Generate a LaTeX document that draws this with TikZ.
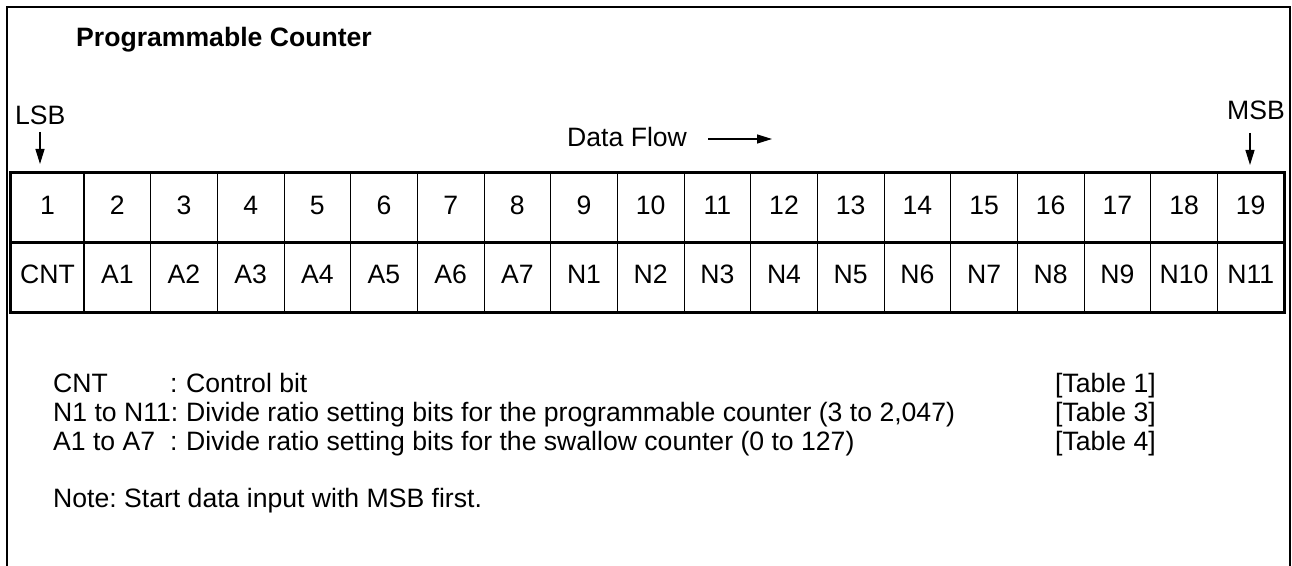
\documentclass[tikz,border=0pt]{standalone}
\usepackage{fontspec}
\setmainfont{Liberation Sans}
\usetikzlibrary{arrows.meta}
\frenchspacing
\begin{document}
\begin{tikzpicture}[x=1bp,y=-1bp,
  every node/.style={font=\fontsize{26.6bp}{32bp}\selectfont, inner sep=0pt},
  cell/.style={draw, line width=1bp, minimum height=69.5bp, text height=19bp, text depth=6bp, anchor=center},
  lbl/.style={anchor=base west},
  arr/.style={line width=1.3bp, -{Triangle[length=15bp,width=9bp]}}]
\useasboundingbox (0,0) rectangle (1292,566);
% outer frame (open at bottom)
\draw[line width=2bp] (7,566) -- (7,7) -- (1290,7) -- (1290,566);
% title
\node[lbl, font=\fontsize{26.6bp}{32bp}\selectfont\bfseries] (title) at (76,47) {Programmable Counter};
% LSB / MSB
\node[lbl] (lsb) at (15,125) {LSB};
\node[anchor=base east] (msb) at (1285,120) {MSB};
\coordinate (lsbA) at (40,132);
\coordinate (lsbB) at (40,164);
\coordinate (msbA) at (1250,133);
\coordinate (msbB) at (1250,165);
\draw[arr] (lsbA) -- (lsbB);
\draw[arr] (msbA) -- (msbB);
% data flow
\node[lbl] (flow) at (567,147) {Data Flow};
\coordinate (fA) at (708,139);
\coordinate (fB) at (772,139);
\draw[arr] (fA) -- (fB);
% table cells
\node[cell, minimum width=73bp] (t1) at (47.5,207.75) {1};
\node[cell, minimum width=73bp] (b1) at (47.5,277.25) {CNT};
\foreach \i/\lab in {2/A1,3/A2,4/A3,5/A4,6/A5,7/A6,8/A7,9/N1,10/N2,11/N3,12/N4,13/N5,14/N6,15/N7,16/N8,17/N9,18/N10,19/N11}{
  \pgfmathsetmacro{\cx}{84+(\i-2)*66.67+33.33}
  \node[cell, minimum width=66.67bp] (t\i) at (\cx,207.75) {\i};
  \node[cell, minimum width=66.67bp] (b\i) at (\cx,277.25) {\lab};
}
\draw[line width=3bp] (t1.north west) rectangle (b19.south east);
\draw[line width=3bp] (t1.south west) -- (t19.south east);
% legend
\node[lbl] (k1) at (53,392) {CNT};
\node[lbl] (c1) at (170,392) {:};
\node[lbl] (d1) at (186,392) {Control bit};
\node[lbl] (k2) at (53,421) {N1 to N11:};
\node[lbl] (d2) at (186,421) {Divide ratio setting bits for the programmable counter (3 to 2,047)};
\node[lbl] (k3) at (53,450) {A1 to A7};
\node[lbl] (c3) at (170,450) {:};
\node[lbl] (d3) at (186,450) {Divide ratio setting bits for the swallow counter (0 to 127)};
\node[lbl] (r1) at (1055,392) {[Table 1]};
\node[lbl] (r2) at (1055,421) {[Table 3]};
\node[lbl] (r3) at (1055,450) {[Table 4]};
\node[lbl] (note) at (53,507) {Note: Start data input with MSB first.};
\end{tikzpicture}
\end{document}
